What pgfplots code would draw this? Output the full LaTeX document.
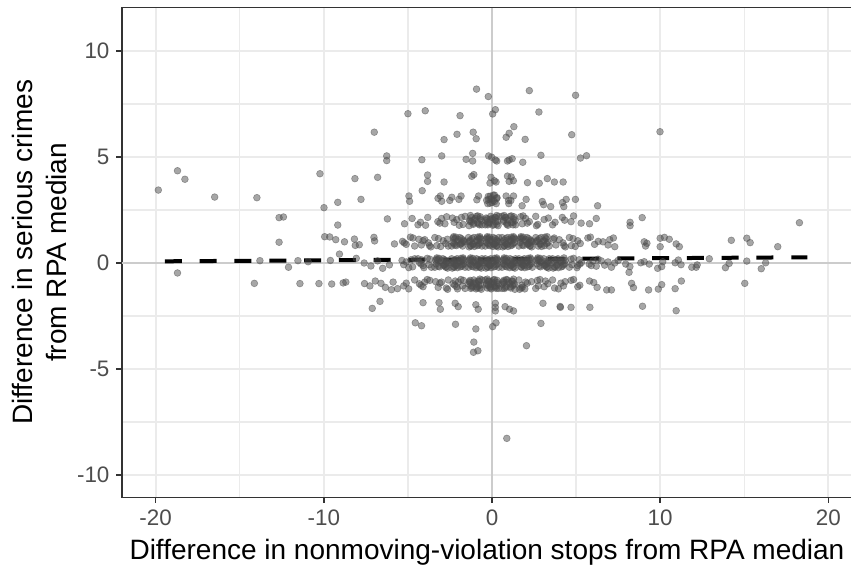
\documentclass[border=0pt]{standalone}
\usepackage{fontspec}
\setmainfont{Liberation Sans}
\usepackage{pgfplots}
\pgfplotsset{compat=1.18}
\definecolor{gridc}{HTML}{EBEBEB}
\definecolor{borderc}{HTML}{333333}
\definecolor{tickc}{HTML}{4D4D4D}
\definecolor{ptc}{HTML}{4D4D4D}
\definecolor{zeroc}{HTML}{CCCCCC}
\begin{document}
\begin{tikzpicture}
\begin{axis}[
  scale only axis, width=370pt, height=244.9pt,
  xmin=-22, xmax=22, ymin=-11.05, ymax=12.05,
  xtick={-20,-10,0,10,20}, xticklabels={-20,-10,0,10,20},
  minor xtick={-15,-5,5,15},
  ytick={-10,-5,0,5,10}, yticklabels={-10,-5,0,5,10},
  minor ytick={-7.5,-2.5,2.5,7.5},
  grid=both,
  major grid style={draw=gridc, line width=1pt},
  minor grid style={draw=gridc, line width=0.6pt},
  axis line style={draw=borderc, line width=0.75pt},
  tick align=outside, tick pos=left,
  major tick length=2.75pt, minor tick length=0pt,
  every tick/.style={draw=borderc, line width=0.75pt},
  ticklabel style={font=\fontsize{11.2}{13}\selectfont, text=tickc},
  xlabel={Difference in nonmoving-violation stops from RPA median},
  ylabel={Difference in serious crimes\\from RPA median},
  label style={font=\fontsize{14}{16.6}\selectfont},
  xlabel style={xshift=-2.5pt},
  ylabel style={align=center},
  ylabel shift=-1.5pt,
  clip=true,
]
\addplot[zeroc, line width=1pt, forget plot] coordinates {(0,-11.05) (0,12.05)};
\addplot[zeroc, line width=1pt, forget plot] coordinates {(-22,0) (22,0)};
\pgfplotsset{ptstyle/.style={only marks, mark=*, mark size=1.7pt, mark options={draw=ptc, fill=ptc, opacity=0.5, line width=0.3pt}, forget plot}}
% scattered points
\addplot[ptstyle] coordinates {
(-0.92,8.2) (-0.22,7.85) (2.22,8.13) (4.97,7.91)
(-5.0,7.04) (-3.97,7.18) (-1.9,6.95) (0.04,7.03) (0.2,7.23) (2.79,7.12)
(-7.0,6.17) (1.3,6.43) (1.02,6.12) (0.84,5.93) (-1.12,6.17) (-0.94,5.86) (-2.08,6.07) (-2.85,5.82) (1.97,5.83) (4.74,6.05) (9.99,6.19)
(-6.26,5.05) (-6.26,4.83) (-4.17,4.87) (-2.99,5.05) (-1.54,4.89) (-1.15,5.17) (-1.15,4.81) (-0.2,5.05) (-0.02,4.99) (0.2,4.86) (0.28,4.81) (0.92,4.81) (1.2,4.92) (1.02,4.86) (1.83,4.75) (2.91,5.08) (5.26,4.95) (5.62,5.06)
(-18.7,4.35) (-18.26,3.95) (-10.23,4.21) (-8.15,3.98) (-6.8,4.04)
(-3.83,4.15) (-3.83,3.85) (-2.85,3.82) (-1.2,4.09) (-1.08,4.17) (-0.06,4.04) (0.24,3.82) (0.14,3.88) (-0.12,3.77) (0.92,4.1) (1.14,4.06) (1.27,3.88) (1.02,3.85) (2.11,3.79) (2.81,3.76) (3.29,3.98) (3.71,3.82) (4.23,3.82)
(-19.84,3.44) (-16.49,3.11) (-13.98,3.08) (-7.79,3.0) (-9.17,2.86) (-9.99,2.61)
(-4.94,3.16) (-4.9,2.91) (-4.15,3.41) (-3.21,3.05) (-3.07,3.16) (-2.99,2.91) (-2.51,2.95) (-2.39,3.1) (-1.84,3.16) (-1.97,3.0) (-0.9,2.98) (-0.8,3.16) (-0.2,3.0) (-0.1,3.15) (0.0,2.85) (0.08,2.95) (0.15,3.2) (-0.25,2.8) (0.28,3.05) (0.84,3.16) (0.98,2.95) (1.12,2.95) (1.28,3.16) (1.0,2.8) (1.79,2.7) (2.03,3.0) (2.99,2.9) (3.07,2.75) (3.49,2.66) (4.19,2.85) (4.27,2.66) (4.41,3.0) (4.96,3.0) (6.28,2.7)
(-12.66,2.14) (-12.4,2.17) (-9.17,1.79) (-6.22,2.08) (8.93,2.14) (8.21,1.92) (8.21,1.76) (18.28,1.9)
(-9.95,1.24) (-9.65,1.23) (-9.29,1.10) (-8.77,1.0) (-8.18,1.13) (-7.02,1.21) (-6.98,1.04) (-8.13,0.83) (-7.89,0.86) (-5.80,0.9) (-12.66,0.98) (7.22,1.18) (7.3,0.77) (9.05,1.0) (9.21,0.93) (9.13,0.8) (10.0,1.17) (10.25,1.21) (10.54,1.12) (10.95,0.9) (11.14,0.77) (10.0,0.77) (14.23,1.07) (15.15,1.17) (15.35,0.96) (16.99,0.77) (6.6,1.0) (6.9,0.85) (7.0,1.1)
(-18.7,-0.47) (-13.8,0.11) (-12.1,-0.2) (-11.54,0.11) (-10.93,0.06) (-9.61,0.12) (-9.07,0.42) (-8.07,0.22) (-7.2,-0.14) (-6.5,-0.25) (-6.1,-0.09) (-6.8,0.1) (-7.6,0.0)
(7.95,-0.05) (8.2,-0.17) (8.15,-0.44) (8.85,0.01) (9.05,0.06) (9.35,-0.05) (9.85,-0.25) (10.09,-0.17) (10.15,0.06) (10.89,0.01) (11.08,0.14) (11.24,-0.08) (11.88,-0.2) (12.14,-0.2) (12.2,-0.09) (12.92,0.2) (13.88,-0.22) (14.1,-0.02) (15.15,0.09) (16.01,-0.27) (16.27,0.01) (6.5,0.1) (6.7,-0.1) (6.9,0.05) (7.1,-0.2) (7.3,0.0) (7.5,0.12)
(-14.13,-0.96) (-11.42,-0.97) (-10.29,-0.97) (-9.53,-0.99) (-8.85,-0.94) (-8.69,-0.9) (-7.58,-0.97) (-7.26,-1.08) (-6.94,-0.85) (-6.6,-0.96) (-6.34,-1.15) (-5.98,-1.26) (-5.88,-0.9) (-5.62,-1.21) (6.82,-1.27) (7.1,-1.27) (8.3,-0.96) (8.41,-1.16) (9.31,-1.27) (9.89,-1.23) (10.09,-1.02) (10.89,-1.21) (11.26,-0.85) (15.03,-0.96)
(-7.12,-2.14) (-6.66,-1.81) (8.95,-2.04) (10.95,-2.25) (-4.1,-1.87) (-3.15,-1.87) (-3.07,-2.18) (-2.19,-1.9) (-2.01,-2.06) (-0.96,-1.97) (-0.82,-2.18) (0.2,-1.9) (0.2,-2.09) (0.2,-2.26) (0.78,-2.06) (1.04,-2.18) (1.28,-2.26) (3.03,-1.9) (4.07,-2.09) (4.05,-2.05) (4.7,-2.09) (5.82,-2.09)
(-4.56,-2.82) (-4.19,-2.96) (-2.17,-2.89) (-0.96,-3.11) (0.24,-2.82) (0.04,-3.0) (2.91,-2.85)
(-1.08,-3.73) (-1.1,-4.21) (-0.84,-4.14) (2.05,-3.9)
(0.88,-8.27)
};
% row 0
\addplot[ptstyle] coordinates {
(-5.35,0.12) (-4.72,-0.18) (-5.10,0.05) (-4.60,0.20) (-4.95,-0.22) (-5.25,-0.08) (-4.82,0.15)
(-4.40,0.20) (-4.05,-0.22) (-3.75,-0.08) (-4.18,0.15) (-3.60,-0.20) (-4.32,0.02) (-3.85,0.22) (-4.10,-0.12) (-3.70,0.18) (-4.22,-0.05)
(-2.82,0.15) (-3.40,-0.20) (-2.68,0.02) (-3.15,0.22) (-2.90,-0.12) (-3.30,0.18) (-2.78,-0.05) (-3.00,0.10) (-3.20,-0.15) (-2.64,-0.24) (-3.35,0.12) (-2.72,-0.18)
(-1.85,0.22) (-2.10,-0.12) (-1.70,0.18) (-2.22,-0.05) (-2.00,0.10) (-1.80,-0.15) (-2.36,-0.24) (-1.65,0.12) (-2.28,-0.18) (-1.90,0.05) (-2.40,0.20) (-2.05,-0.22) (-1.75,-0.08) (-2.18,0.15) (-1.60,-0.20) (-2.32,0.02)
(-1.10,0.05) (-0.60,0.20) (-0.95,-0.22) (-1.25,-0.08) (-0.82,0.15) (-1.40,-0.20) (-0.68,0.02) (-1.15,0.22) (-0.90,-0.12) (-1.30,0.18) (-0.78,-0.05) (-1.00,0.10) (-1.20,-0.15) (-0.64,-0.24) (-1.35,0.12) (-0.72,-0.18)
(0.25,-0.08) (-0.18,0.15) (0.40,-0.20) (-0.32,0.02) (0.15,0.22) (-0.10,-0.12) (0.30,0.18) (-0.22,-0.05) (0.00,0.10) (0.20,-0.15) (-0.36,-0.24) (0.35,0.12) (-0.28,-0.18) (0.10,0.05) (-0.40,0.20) (-0.05,-0.22)
(0.70,0.18) (1.22,-0.05) (1.00,0.10) (0.80,-0.15) (1.36,-0.24) (0.65,0.12) (1.28,-0.18) (0.90,0.05) (1.40,0.20) (1.05,-0.22) (0.75,-0.08) (1.18,0.15) (0.60,-0.20) (1.32,0.02) (0.85,0.22) (1.10,-0.12)
(1.72,-0.18) (2.10,0.05) (1.60,0.20) (1.95,-0.22) (2.25,-0.08) (1.82,0.15) (2.40,-0.20) (1.68,0.02) (2.15,0.22) (1.90,-0.12) (2.30,0.18) (1.78,-0.05) (2.00,0.10) (2.20,-0.15)
(3.32,0.02) (2.85,0.22) (3.10,-0.12) (2.70,0.18) (3.22,-0.05) (3.00,0.10) (2.80,-0.15) (3.36,-0.24) (2.65,0.12) (3.28,-0.18) (2.90,0.05) (3.40,0.20)
(4.00,0.10) (4.20,-0.15) (3.64,-0.24) (4.35,0.12) (3.72,-0.18) (4.10,0.05) (3.60,0.20) (3.95,-0.22) (4.25,-0.08) (3.82,0.15)
(5.05,-0.22) (4.75,-0.08) (5.18,0.15) (4.60,-0.20) (5.32,0.02) (4.85,0.22) (5.10,-0.12) (4.70,0.18) (5.22,-0.05)
(5.90,-0.12) (6.30,0.18) (5.78,-0.05) (6.00,0.10) (6.20,-0.15)
(-3.05,0.03) (-2.85,-0.10) (-3.22,0.14) (-2.70,0.08) (-3.32,-0.04) (-2.92,0.20) (-3.12,-0.18) (-2.75,-0.20) (-2.62,0.00) (-3.28,0.24)
(-1.95,0.03) (-2.15,-0.10) (-1.78,0.14) (-2.30,0.08) (-1.68,-0.04) (-2.08,0.20) (-1.88,-0.18) (-2.25,-0.20) (-2.38,0.00) (-1.72,0.24)
(-1.05,0.03) (-0.85,-0.10) (-1.22,0.14) (-0.70,0.08) (-1.32,-0.04) (-0.92,0.20) (-1.12,-0.18) (-0.75,-0.20) (-0.62,0.00) (-1.28,0.24)
(0.05,0.03) (-0.15,-0.10) (0.22,0.14) (-0.30,0.08) (0.32,-0.04) (-0.08,0.20) (0.12,-0.18) (-0.25,-0.20) (-0.38,0.00) (0.28,0.24)
(0.95,0.03) (1.15,-0.10) (0.78,0.14) (1.30,0.08) (0.68,-0.04) (1.08,0.20) (0.88,-0.18) (1.25,-0.20) (1.38,0.00) (0.72,0.24)
(2.05,0.03) (1.85,-0.10) (2.22,0.14) (1.70,0.08) (2.32,-0.04) (1.92,0.20) (2.12,-0.18) (1.75,-0.20) (1.62,0.00) (2.28,0.24)
(2.95,0.03) (3.15,-0.10) (2.78,0.14) (3.30,0.08) (2.68,-0.04) (3.08,0.20) (2.88,-0.18) (3.25,-0.20) (3.38,0.00) (2.72,0.24)
(4.05,0.03) (3.85,-0.10) (4.22,0.14) (3.70,0.08) (4.32,-0.04) (3.92,0.20) (4.12,-0.18) (3.75,-0.20) (3.62,0.00) (4.28,0.24)
};
% row 1
\addplot[ptstyle] coordinates {
(-4.60,0.80) (-5.32,1.02) (-4.85,1.22) (-5.10,0.88) (-4.70,1.18) (-5.22,0.95)
(-3.78,0.95) (-4.00,1.10) (-4.20,0.85) (-3.64,0.76) (-4.35,1.12) (-3.72,0.82) (-4.10,1.05)
(-2.65,1.12) (-3.28,0.82) (-2.90,1.05) (-3.40,1.20) (-3.05,0.78) (-2.75,0.92) (-3.18,1.15) (-2.60,0.80)
(-2.25,0.92) (-1.82,1.15) (-2.40,0.80) (-1.68,1.02) (-2.15,1.22) (-1.90,0.88) (-2.30,1.18) (-1.78,0.95) (-2.00,1.10) (-2.20,0.85)
(-0.80,0.85) (-1.36,0.76) (-0.65,1.12) (-1.28,0.82) (-0.90,1.05) (-1.40,1.20) (-1.05,0.78) (-0.75,0.92) (-1.18,1.15) (-0.60,0.80) (-1.32,1.02) (-0.85,1.22) (-1.10,0.88) (-0.70,1.18)
(0.40,1.20) (0.05,0.78) (-0.25,0.92) (0.18,1.15) (-0.40,0.80) (0.32,1.02) (-0.15,1.22) (0.10,0.88) (-0.30,1.18) (0.22,0.95) (0.00,1.10) (-0.20,0.85) (0.36,0.76) (-0.35,1.12) (0.28,0.82) (-0.10,1.05)
(1.15,1.22) (0.90,0.88) (1.30,1.18) (0.78,0.95) (1.00,1.10) (1.20,0.85) (0.64,0.76) (1.35,1.12) (0.72,0.82) (1.10,1.05) (0.60,1.20) (0.95,0.78) (1.25,0.92) (0.82,1.15)
(2.18,1.15) (1.60,0.80) (2.32,1.02) (1.85,1.22) (2.10,0.88) (1.70,1.18) (2.22,0.95) (2.00,1.10) (1.80,0.85) (2.36,0.76) (1.65,1.12) (2.28,0.82)
(3.10,1.05) (2.60,1.20) (2.95,0.78) (3.25,0.92) (2.82,1.15) (3.40,0.80) (2.68,1.02) (3.15,1.22) (2.90,0.88)
(3.70,1.18) (4.22,0.95) (4.00,1.10) (3.80,0.85) (4.36,0.76) (3.65,1.12) (4.28,0.82)
(4.72,0.82) (5.10,1.05) (4.60,1.20) (4.95,0.78) (5.25,0.92) (4.82,1.15)
(6.32,1.02) (5.85,1.22) (6.10,0.88) (5.70,1.18)
(-2.05,1.03) (-1.85,0.90) (-2.22,1.14) (-1.70,1.08) (-2.32,0.96) (-1.92,1.20) (-2.12,0.82) (-1.75,0.80) (-1.62,1.00) (-2.28,1.24)
(-0.95,1.03) (-1.15,0.90) (-0.78,1.14) (-1.30,1.08) (-0.68,0.96) (-1.08,1.20) (-0.88,0.82) (-1.25,0.80) (-1.38,1.00) (-0.72,1.24)
(-0.05,1.03) (0.15,0.90) (-0.22,1.14) (0.30,1.08) (-0.32,0.96) (0.08,1.20) (-0.12,0.82) (0.25,0.80) (0.38,1.00) (-0.28,1.24)
(1.05,1.03) (0.85,0.90) (1.22,1.14) (0.70,1.08) (1.32,0.96) (0.92,1.20) (1.12,0.82) (0.75,0.80) (0.62,1.00) (1.28,1.24)
(1.95,1.03) (2.15,0.90) (1.78,1.14) (2.30,1.08) (1.68,0.96) (2.08,1.20) (1.88,0.82) (2.25,0.80) (2.38,1.00) (1.72,1.24)
(3.05,1.03) (2.85,0.90) (3.22,1.14) (2.70,1.08) (3.32,0.96) (2.92,1.20) (3.12,0.82) (2.75,0.80) (2.62,1.00) (3.28,1.24)
};
% row 2
\addplot[ptstyle] coordinates {
(-4.75,2.10) (-5.20,1.85)
(-3.95,1.78) (-4.25,1.92) (-3.82,2.15) (-4.40,1.80)
(-3.10,1.88) (-2.70,2.18) (-3.22,1.95) (-3.00,2.10) (-2.80,1.85)
(-2.35,2.12) (-1.72,1.82) (-2.10,2.05) (-1.60,2.20) (-1.95,1.78) (-2.25,1.92) (-1.82,2.15)
(-0.60,1.80) (-1.32,2.02) (-0.85,2.22) (-1.10,1.88) (-0.70,2.18) (-1.22,1.95) (-1.00,2.10) (-0.80,1.85) (-1.36,1.76)
(0.22,1.95) (0.00,2.10) (-0.20,1.85) (0.36,1.76) (-0.35,2.12) (0.28,1.82) (-0.10,2.05) (0.40,2.20) (0.05,1.78) (-0.25,1.92) (0.18,2.15) (-0.40,1.80)
(0.60,2.20) (0.95,1.78) (1.25,1.92) (0.82,2.15) (1.40,1.80) (0.68,2.02) (1.15,2.22) (0.90,1.88) (1.30,2.18)
(1.85,2.22) (2.10,1.88) (1.70,2.18) (2.22,1.95) (2.00,2.10) (1.80,1.85)
(2.64,1.76) (3.35,2.12) (2.72,1.82) (3.10,2.05) (2.60,2.20)
(3.75,1.92) (4.18,2.15) (3.60,1.80) (4.32,2.02)
(4.85,2.22) (5.30,1.88) (4.70,1.95)
(6.20,2.10) (5.80,1.85)
(-1.05,2.03) (-0.85,1.90) (-1.22,2.14) (-0.70,2.08) (-1.32,1.96) (-0.92,2.20) (-1.12,1.82) (-0.75,1.80) (-0.62,2.00) (-1.28,2.24)
(0.05,2.03) (-0.15,1.90) (0.22,2.14) (-0.30,2.08) (0.32,1.96) (-0.08,2.20) (0.12,1.82) (-0.25,1.80) (-0.38,2.00) (0.28,2.24)
(0.95,2.03) (1.15,1.90) (0.78,2.14) (1.30,2.08) (0.68,1.96) (1.08,2.20) (0.88,1.82) (1.25,1.80) (1.38,2.00) (0.72,2.24)
(-0.05,3.03) (0.15,2.90) (-0.22,3.14) (0.30,3.08) (-0.32,2.96) (0.08,3.20) (-0.12,2.82) (0.25,2.80)
};
% row -1
\addplot[ptstyle] coordinates {
(-5.10,-0.95) (-4.60,-0.80) (-4.95,-1.22) (-5.25,-1.08)
(-4.32,-0.98) (-3.85,-0.78) (-4.10,-1.12) (-3.70,-0.82) (-4.22,-1.05) (-4.00,-0.90)
(-3.00,-0.90) (-3.20,-1.15) (-2.64,-1.24) (-3.35,-0.88) (-2.72,-1.18) (-3.10,-0.95) (-2.60,-0.80)
(-2.05,-1.22) (-1.75,-1.08) (-2.18,-0.85) (-1.60,-1.20) (-2.32,-0.98) (-1.85,-0.78) (-2.10,-1.12) (-1.70,-0.82) (-2.22,-1.05) (-2.00,-0.90)
(-0.90,-1.12) (-1.30,-0.82) (-0.78,-1.05) (-1.00,-0.90) (-1.20,-1.15) (-0.64,-1.24) (-1.35,-0.88) (-0.72,-1.18) (-1.10,-0.95) (-0.60,-0.80) (-0.95,-1.22) (-1.25,-1.08) (-0.82,-0.85)
(-0.28,-1.18) (0.10,-0.95) (-0.40,-0.80) (-0.05,-1.22) (0.25,-1.08) (-0.18,-0.85) (0.40,-1.20) (-0.32,-0.98) (0.15,-0.78) (-0.10,-1.12) (0.30,-0.82) (-0.22,-1.05) (0.00,-0.90) (0.20,-1.15)
(1.18,-0.85) (0.60,-1.20) (1.32,-0.98) (0.85,-0.78) (1.10,-1.12) (0.70,-0.82) (1.22,-1.05) (1.00,-0.90) (0.80,-1.15) (1.36,-1.24) (0.65,-0.88)
(1.78,-1.05) (2.00,-0.90) (1.80,-1.15) (1.64,-1.24) (2.35,-0.88) (1.72,-1.18) (2.10,-0.95) (1.60,-0.80) (1.95,-1.22)
(2.75,-1.08) (3.18,-0.85) (2.60,-1.20) (3.32,-0.98) (2.85,-0.78) (3.10,-1.12) (2.70,-0.82)
(4.35,-0.88) (3.72,-1.18) (4.10,-0.95) (3.60,-0.80) (3.95,-1.22) (4.25,-1.08)
(4.85,-0.78) (5.10,-1.12) (4.70,-0.82) (5.22,-1.05)
(5.80,-0.85) (6.25,-1.15) (6.05,-0.92)
(-0.95,-0.97) (-1.15,-1.10) (-0.78,-0.86) (-1.30,-0.92) (-0.68,-1.04) (-1.08,-0.80) (-0.88,-1.18) (-1.25,-1.20) (-1.38,-1.00) (-0.72,-0.76)
(-0.05,-0.97) (0.15,-1.10) (-0.22,-0.86) (0.30,-0.92) (-0.32,-1.04) (0.08,-0.80) (-0.12,-1.18) (0.25,-1.20) (0.38,-1.00) (-0.28,-0.76)
(1.05,-0.97) (0.85,-1.10) (1.22,-0.86) (0.70,-0.92) (1.32,-1.04) (0.92,-0.80) (1.12,-1.18) (0.75,-1.20) (0.62,-1.00) (1.28,-0.76)
};
\addplot[black, line width=2pt, dash pattern=on 8.5pt off 8.9pt, forget plot] coordinates {(-19.45,0.08) (18.75,0.27)};
\end{axis}
\draw[borderc, line width=0.75pt] (current axis.north west) -- (current axis.north east);
\pgfresetboundingbox
\useasboundingbox ([xshift=-61pt,yshift=-34.85pt]current axis.south west) rectangle ([xshift=364.5pt,yshift=3.75pt]current axis.north west);
\end{tikzpicture}
\end{document}
